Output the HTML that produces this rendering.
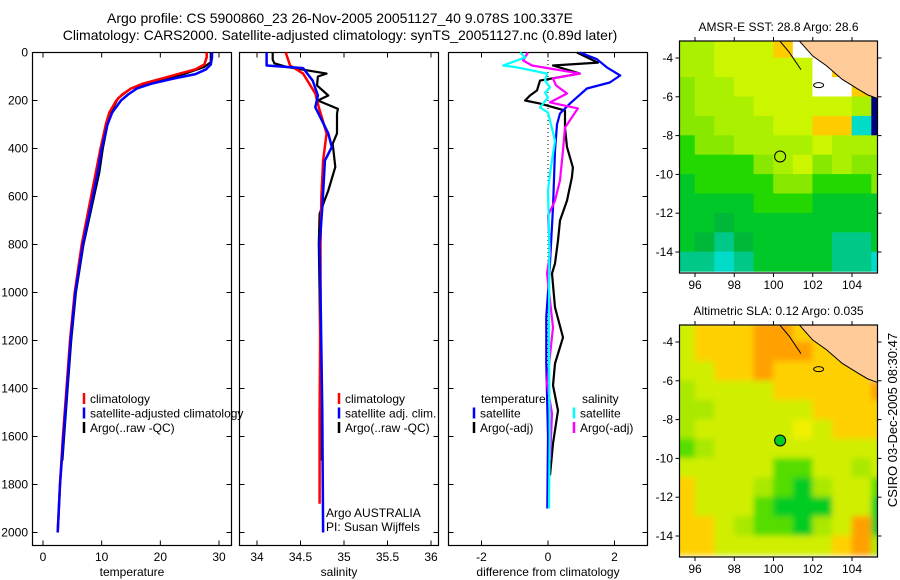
<!DOCTYPE html>
<html><head><meta charset="utf-8"><style>
html,body{margin:0;padding:0;background:#fff;}
svg{display:block;font-family:"Liberation Sans",sans-serif;}
</style></head><body>
<svg id="fig" width="900" height="580" viewBox="0 0 900 580" xmlns="http://www.w3.org/2000/svg">
<rect width="900" height="580" fill="#fff"/>
<text x="340" y="23" font-size="14" text-anchor="middle">Argo profile: CS 5900860_23 26-Nov-2005 20051127_40 9.078S 100.337E</text>
<text x="340" y="40" font-size="14" text-anchor="middle">Climatology: CARS2000. Satellite-adjusted climatology: synTS_20051127.nc (0.89d later)</text>
<g id="layer"></g>
<text transform="translate(897,420) rotate(-90)" font-size="13" text-anchor="middle">CSIRO 03-Dec-2005 08:30:47</text>
</svg>
<script>
// ---------- data ----------
const tDepth = [0,20,50,70,90,110,130,150,175,200,250,300,400,500,600,800,1000,1200,1400,1600,1800,2000];
const tClim  = [27.9,27.9,27.5,26,23,20,17,15,13.5,12.5,11.3,10.7,9.8,9.0,8.2,6.6,5.4,4.6,4.0,3.4,2.9,2.5];
const tSat   = [28.8,28.8,28.6,27.8,26,22,18.5,16,14.5,13.3,11.8,11,10,9.3,8.5,6.8,5.5,4.7,4.1,3.5,2.9,2.5];
const tArgoDepth = [0,40,60,90,120,150,190,210,250,300,400,500,600,800,1000,1200,1400,1600,1700];
const tArgo  = [28.6,28.6,27.5,24,19,15,12.8,12.4,11.5,11,10.2,9.6,8.7,6.9,5.6,4.8,4.2,3.6,3.3];

const sClimDepth = [0,54,88,171,228,337,450,600,800,1000,1500,1880];
const sClim      = [34.33,34.38,34.53,34.67,34.71,34.80,34.76,34.74,34.73,34.73,34.72,34.72];
const sSatDepth  = [0,54,65,117,179,228,337,394,450,646,800,1000,1500,2000];
const sSat       = [34.11,34.11,34.53,34.64,34.70,34.67,34.82,34.86,34.78,34.75,34.72,34.73,34.75,34.76];
const sArgoDepth = [0,30,45,60,88,100,137,179,200,235,255,337,380,477,575,672,800,1000,1400,1700];
const sArgo      = [34.18,34.18,34.20,34.34,34.80,34.70,34.69,34.82,34.70,34.93,34.92,34.92,34.87,34.90,34.82,34.72,34.71,34.72,34.73,34.74];

const dTSatDepth = [0,28,62,96,125,150,213,254,300,408,646,900,1100,1300,1600,1900];
const dTSat      = [0.96,1.47,1.77,2.17,1.86,1.17,0.66,0.36,0.27,0.21,0.15,0.05,-0.05,-0.05,0.0,-0.02];
const dTArgoDepth= [0,42,54,75,88,117,158,179,200,213,242,313,394,479,520,617,700,783,879,921,1062,1187,1296,1387,1492,1629,1762];
const dTArgo     = [0.87,1.5,0.15,0.66,0.96,-0.24,-0.33,-0.54,-0.69,-0.24,0.51,0.51,0.57,0.75,0.72,0.57,0.36,0.3,0.21,0.12,0.21,0.45,0.21,0.15,0.3,0.15,0.06];
const dSSatDepth = [0,21,54,62,88,117,146,167,187,229,250,367,504,575,800,1200,1600,1900];
const dSSat      = [-0.84,-0.69,-1.35,-0.93,-0.03,-0.09,0.06,-0.09,0,-0.24,0,0.21,0.06,0.0,0.04,0.03,0.05,0.03];
const dSArgoDepth= [0,33,54,88,108,137,171,208,233,313,408,533,617,679,838,921,1146,1379,1504,1700];
const dSArgo     = [-0.6,-0.75,-0.48,0.96,0.15,0.24,0.57,0.06,0.9,0.51,0.45,0.36,0.21,0,0.06,-0.03,0.15,-0.03,0.12,0.06];

const depthTicks = [0,200,400,600,800,1000,1200,1400,1600,1800,2000];
const tempTicks = [0,10,20,30];
const salTicks = [34,34.5,35,35.5,36];
const diffTicks = [-2,0,2];
const lonTicks = [96,98,100,102,104];
const latTicks = [-4,-6,-8,-10,-12,-14];

const sstRows = ["yyYYYOWPPPP","yyYYYYYWOPP","LyyYYYYWWOP","LyyyYYYYYyN","LLyyyYYOOCN","GLLyyyyYyyy","GGGGLyYLyLL","gGGGGLLGGGL","ggggGGGgggg","ggDgggggggg","gDTDggggTTg","TTCTggggTTC"];
const slaRows = ["yoooOOooPPP","yoooOOOooPP","yyooOoooooP","LyyyyoooooO","LLyyyyyoooo","LyyyyyYyooo","GLyyyyyyyyy","yyyyyGGyyLy","oyyyLGgLyyG","oyyyGgggyyg","ooyLGGgLyOg","ooyyyyyyoOL"];
const coastLon = [101.3,102,102.7,103.5,104.3,104.8,105.6];
const coastLat = [-3.1,-3.9,-4.4,-5.1,-5.6,-5.9,-6.2];
const argoLon = 100.337, argoLat = -9.078;

// ---------- helpers ----------
const NS="http://www.w3.org/2000/svg";
const layer=document.getElementById('layer');
function mk(tag,attrs,parent){const e=document.createElementNS(NS,tag);for(const k in attrs)e.setAttribute(k,attrs[k]);(parent||layer).appendChild(e);return e;}
function lin(d0,d1,r0,r1){return v=>r0+(v-d0)*(r1-r0)/(d1-d0);}
const yD = lin(0,2000,52.5,532.5);

function panel(name,x0,x1,xs,ticks,label,showY){
  const g=mk('g',{});
  
  
  const fr=mk('rect',{x:x0,y:52.5,width:x1-x0,height:493,fill:'none',stroke:'#000','stroke-width':1.2},g);
  
  
  ticks.forEach(t=>{const x=xs(t);
    mk('line',{x1:x,x2:x,y1:545.5,y2:540.5,stroke:'#000'},g);
    mk('line',{x1:x,x2:x,y1:52.5,y2:57.5,stroke:'#000'},g);
    const tx=mk('text',{x:x,y:561,'font-size':12,'text-anchor':'middle'},g);tx.textContent=t;
    
    });
  depthTicks.forEach(d=>{const y=yD(d);
    mk('line',{x1:x0,x2:x0+5,y1:y,y2:y,stroke:'#000'},g);
    mk('line',{x1:x1,x2:x1-5,y1:y,y2:y,stroke:'#000'},g);
    if(showY){const tx=mk('text',{x:28,y:y+4,'font-size':12,'text-anchor':'end'},g);tx.textContent=d;
      
      }});
  const lb=mk('text',{x:(x0+x1)/2,y:576,'font-size':12,'text-anchor':'middle'},g);lb.textContent=label;
  
  
  return g;
}
function series(name,g,xs,vals,depths,color,w){
  const pts=vals.map((v,i)=>xs(v).toFixed(1)+','+yD(depths[i]).toFixed(1)).join(' ');
  const p=mk('polyline',{points:pts,fill:'none',stroke:color,'stroke-width':w,'stroke-linejoin':'round'},g);
  
  
}
function legend(g,x,y,items){
  items.forEach((it,i)=>{const yy=y+i*14.5;
    mk('line',{x1:x,x2:x,y1:yy-10,y2:yy+1,stroke:it[1],'stroke-width':2.5},g);
    const t=mk('text',{x:x+6,y:yy,'font-size':12},g);t.textContent=it[0];
    
    });
}

// ---------- panel 1 ----------
const xT=lin(0,30,43,219);
const g1=panel('temperature-panel',32.5,231.5,xT,tempTicks,'temperature',true);
series('argo-temperature-line',g1,xT,tArgo,tArgoDepth,'#000',2.2);
series('climatology-temperature-line',g1,xT,tClim,tDepth,'#f00',2.5);
series('satellite-temperature-line',g1,xT,tSat,tDepth,'#00f',2.5);
legend(g1,84,403,[['climatology','#f00'],['satellite-adjusted climatology','#00f'],['Argo(..raw -QC)','#000']]);

// ---------- panel 2 ----------
const xS=lin(34,36,257,431);
const g2=panel('salinity-panel',239.5,438.5,xS,salTicks,'salinity',false);
series('argo-salinity-line',g2,xS,sArgo,sArgoDepth,'#000',2.2);
series('climatology-salinity-line',g2,xS,sClim,sClimDepth,'#f00',2.5);
series('satellite-salinity-line',g2,xS,sSat,sSatDepth,'#00f',2.5);
legend(g2,339,403,[['climatology','#f00'],['satellite adj. clim.','#00f'],['Argo(..raw -QC)','#000']]);
[['Argo AUSTRALIA',517],['PI: Susan Wijffels',531]].forEach(a=>{const t=mk('text',{x:326,y:a[1],'font-size':12},g2);t.textContent=a[0];
  
  });

// ---------- panel 3 ----------
const xD=lin(-2,2,481.5,614.5);
const g3=panel('difference-panel',448.5,647.5,xD,diffTicks,'difference from climatology',false);
const zl=mk('line',{x1:xD(0),x2:xD(0),y1:60,y2:500,stroke:'#000','stroke-dasharray':'1,3'},g3);


series('argo-temperature-diff-line',g3,xD,dTArgo,dTArgoDepth,'#000',2.2);
series('satellite-temperature-diff-line',g3,xD,dTSat,dTSatDepth,'#00f',2.2);
series('argo-salinity-diff-line',g3,xD,dSArgo,dSArgoDepth,'#f0f',2.2);
series('satellite-salinity-diff-line',g3,xD,dSSat,dSSatDepth,'#0ff',2.2);
[['temperature',481],['salinity',582]].forEach(a=>{const t=mk('text',{x:a[1],y:403,'font-size':12},g3);t.textContent=a[0];
  
  });
legend(g3,474,417.5,[['satellite','#00f'],['Argo(-adj)','#000']]);
legend(g3,574,417.5,[['satellite','#0ff'],['Argo(-adj)','#f0f']]);

// ---------- maps ----------
const sstCol={Y:'#ccf500',y:'#aaf000',L:'#88e800',G:'#22d800',g:'#00c828',D:'#00b838',T:'#00c888',C:'#00dcc8',O:'#ffcc00',P:'#ffcc99',W:'#ffffff',N:'#000080'};
const slaCol={Y:'#f0f000',y:'#d0ee00',L:'#aae800',G:'#55dd00',g:'#00cc22',O:'#ffa000',o:'#ffd000',P:'#ffcc99'};
function map(name,top,title,rows,cols,filled,blur){
  const x0=679.5,x1=877.5,bot=top+232;
  const xL=lin(96,104,695,852), yL=lin(-4,-14,top+17,top+211);
  const g=mk('g',{});
  
  
  const cid='clip'+top;
  const cp=mk('clipPath',{id:cid},g);mk('rect',{x:x0,y:top,width:x1-x0,height:bot-top},cp);
  if(blur){const f=mk('filter',{id:'bl'+top,x:'-5%',y:'-5%',width:'110%',height:'110%'},g);mk('feGaussianBlur',{stdDeviation:3},f);}
  const cg=mk('g',{'clip-path':'url(#'+cid+')'},g);
  const inner=mk('g',blur?{filter:'url(#bl'+top+')'}:{},cg);
  rows.forEach((r,i)=>{for(let j=0;j<r.length;j++){
    const lon=95+j, lat=-3-i;
    const c=mk('rect',{x:xL(lon)-0.3,y:yL(lat)-0.3,width:xL(lon+1)-xL(lon)+0.6,height:yL(lat-1)-yL(lat)+0.6,fill:cols[r[j]]},inner);
    
    }});
  const land=[[105.6,-2.5],[101.3,-2.5]].concat(coastLon.map((l,i)=>[l,coastLat[i]]));
  const lp=mk('polygon',{points:land.map(p=>xL(p[0])+','+yL(p[1])).join(' '),fill:'#ffcc99',stroke:'#000','stroke-width':1},cg);
  
  
  mk('polyline',{points:[[100.3,-3.1],[100.8,-3.7],[101.4,-4.6]].map(p=>xL(p[0])+','+yL(p[1])).join(' '),fill:'none',stroke:'#000'},cg);
  mk('ellipse',{cx:xL(102.3),cy:yL(-5.4),rx:5,ry:2.5,fill:'none',stroke:'#000'},cg);
  const fr=mk('rect',{x:x0,y:top,width:x1-x0,height:bot-top,fill:'none',stroke:'#000','stroke-width':1.2},g);
  
  
  const m=mk('circle',{cx:xL(argoLon),cy:yL(argoLat),r:5.5,fill:filled?'#00cc22':'none',stroke:'#000','stroke-width':1},g);
  
  
  lonTicks.forEach(l=>{const x=xL(l);mk('line',{x1:x,x2:x,y1:top,y2:top-4,stroke:'#000'},g);mk('line',{x1:x,x2:x,y1:bot,y2:bot+4,stroke:'#000'},g);
    const t=mk('text',{x:x,y:bot+16,'font-size':12,'text-anchor':'middle'},g);t.textContent=l;
    
    });
  latTicks.forEach(l=>{const y=yL(l);mk('line',{x1:x0,x2:x0-4,y1:y,y2:y,stroke:'#000'},g);mk('line',{x1:x1,x2:x1+4,y1:y,y2:y,stroke:'#000'},g);
    const t=mk('text',{x:673,y:y+4,'font-size':12,'text-anchor':'end'},g);t.textContent=l;
    
    });
  const tt=mk('text',{x:(x0+x1)/2,y:top-10,'font-size':12,'text-anchor':'middle'},g);tt.textContent=title;
  
  
}
map('sst-map',41,'AMSR-E SST: 28.8 Argo: 28.6',sstRows,sstCol,false,false);
map('sla-map',325,'Altimetric SLA: 0.12 Argo: 0.035',slaRows,slaCol,true,true);
</script>
</body></html>
